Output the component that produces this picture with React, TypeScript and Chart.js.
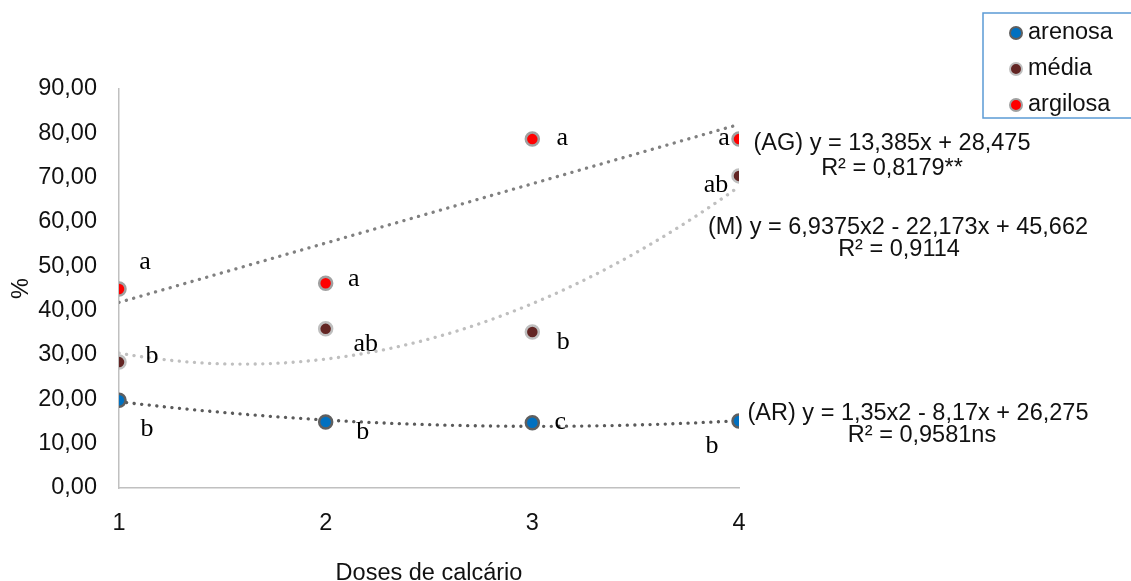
import React, { useEffect, useRef } from 'react';
import { Chart, registerables } from 'chart.js';

Chart.register(...registerables);

// ---- data ----
const doses = [1, 2, 3, 4];
const xTicks = [1, 2, 3, 4];
const yTicks = [0, 10, 20, 30, 40, 50, 60, 70, 80, 90];
const seriesNames = ['arenosa', 'média', 'argilosa'];
const arenosa = [19.8, 14.9, 14.7, 15.1];
const media = [28.4, 35.9, 35.2, 70.4];
const argilosa = [44.9, 46.2, 78.7, 78.7];
const arenosaLetters = ['b', 'b', 'c', 'b'];
const mediaLetters = ['b', 'ab', 'b', 'ab'];
const argilosaLetters = ['a', 'a', 'a', 'a'];
// trendline coefficients (c0 + c1 x + c2 x^2), as printed on the chart
const arCoef = [26.275, -8.17, 1.35];
const mCoef = [45.662, -22.173, 6.9375];
const agCoef = [28.475, 13.385];
const arEq = ['(AR) y = 1,35x2 - 8,17x + 26,275', 'R² = 0,9581ns'];
const mEq = ['(M) y = 6,9375x2 - 22,173x + 45,662', 'R² = 0,9114'];
const agEq = ['(AG) y = 13,385x + 28,475', 'R² = 0,8179**'];
const xTitle = 'Doses de calcário';
const yTitle = '%';

// ---- styling / placement ----
const colors = {
  arenosa: '#0070c0',
  media: '#632523',
  argilosa: '#ff0000',
};
const borders = {
  arenosa: '#5f5f5f',
  media: '#bfbfbf',
  argilosa: '#a0a0a0',
};
// pixel offsets of letters from their points
const letterOffsets = {
  arenosa: [[28, 30], [37, 11], [28, 0], [-27, 26]],
  media: [[33, -5], [40, 16], [31, 11], [-23, 10]],
  argilosa: [[26, -26], [28, -3], [30, 0], [-15, 0]],
};

const FONT = '"Liberation Sans", Arial, sans-serif';
const SERIF = '"Liberation Serif", "Times New Roman", serif';
const FS = 23.5;
const TEXT = '#111';

function poly(c: number[], x: number) {
  let y = 0;
  for (let i = 0; i < c.length; i++) y += c[i] * Math.pow(x, i);
  return y;
}
function trend(c: number[]) {
  const pts: { x: number; y: number }[] = [];
  const x0 = doses[0];
  const x1 = doses[doses.length - 1];
  const n = 60;
  for (let i = 0; i <= n; i++) {
    const x = x0 + ((x1 - x0) * i) / n;
    pts.push({ x, y: poly(c, x) });
  }
  return pts;
}
const pts = (arr: number[]) => arr.map((v, i) => ({ x: doses[i], y: v }));

const annotPlugin = {
  id: 'annot',
  afterDatasetsDraw(chart: any) {
    const { ctx, scales } = chart;
    const xs = scales.x;
    const ys = scales.y;
    ctx.save();
    // letters
    ctx.fillStyle = '#000';
    ctx.font = `26px ${SERIF}`;
    ctx.textAlign = 'center';
    ctx.textBaseline = 'alphabetic';
    const groups: [number[], string[], number[][]][] = [
      [arenosa, arenosaLetters, letterOffsets.arenosa],
      [media, mediaLetters, letterOffsets.media],
      [argilosa, argilosaLetters, letterOffsets.argilosa],
    ];
    groups.forEach(([vals, letters, offs]) => {
      vals.forEach((v, i) => {
        const px = xs.getPixelForValue(doses[i]) + offs[i][0];
        const py = ys.getPixelForValue(v) + offs[i][1];
        ctx.fillText(letters[i], px, py + 6);
      });
    });
    // equations
    ctx.font = `${FS}px ${FONT}`;
    ctx.textBaseline = 'middle';
    ctx.fillStyle = TEXT;
    const last = doses.length - 1;
    const x4 = xs.getPixelForValue(doses[last]);
    const ag = ys.getPixelForValue(argilosa[last]);
    const me = ys.getPixelForValue(media[last]);
    const ar = ys.getPixelForValue(arenosa[last]);
    ctx.fillText(agEq[0], x4 + 153, ag + 4);
    ctx.fillText(agEq[1], x4 + 153, ag + 29);
    ctx.fillText(mEq[0], x4 + 159, me + 52);
    ctx.fillText(mEq[1], x4 + 160, me + 74);
    ctx.fillText(arEq[0], x4 + 179, ar - 8);
    ctx.fillText(arEq[1], x4 + 183, ar + 14);

    // legend
    const lx = 983, ly = 13, lw = 150, lh = 105;
    ctx.strokeStyle = '#5b9bd5';
    ctx.lineWidth = 1.5;
    ctx.strokeRect(lx, ly, lw, lh);
    const keys = ['arenosa', 'media', 'argilosa'] as const;
    ctx.textAlign = 'left';
    keys.forEach((k, i) => {
      const cy = 33 + i * 36;
      ctx.beginPath();
      ctx.arc(1016, cy, 6, 0, Math.PI * 2);
      ctx.fillStyle = colors[k];
      ctx.fill();
      ctx.lineWidth = 2;
      ctx.strokeStyle = borders[k];
      ctx.stroke();
      ctx.fillStyle = TEXT;
      ctx.fillText(seriesNames[i], 1028, cy);
    });
    ctx.restore();
  },
};

export default function App() {
  const ref = useRef<HTMLCanvasElement | null>(null);
  useEffect(() => {
    if (!ref.current) return;
    const pointDs = (label: string, data: number[], key: 'arenosa' | 'media' | 'argilosa') => ({
      type: 'scatter' as const,
      label,
      data: pts(data),
      backgroundColor: colors[key],
      borderColor: borders[key],
      borderWidth: 2.5,
      pointRadius: 6.5,
      order: 0,
    });
    const lineDs = (label: string, c: number[], color: string) => ({
      type: 'scatter' as const,
      label,
      data: trend(c),
      showLine: true,
      borderColor: color,
      borderWidth: 3.3,
      borderDash: [0.1, 7.5],
      borderCapStyle: 'round' as const,
      pointRadius: 0,
      fill: false,
      order: 1,
    });
    const chart = new Chart(ref.current, {
      type: 'scatter',
      data: {
        datasets: [
          lineDs('trend AG', agCoef, '#808080'),
          lineDs('trend M', mCoef, '#bfbfbf'),
          lineDs('trend AR', arCoef, '#5a5a5a'),
          pointDs(seriesNames[0], arenosa, 'arenosa'),
          pointDs(seriesNames[1], media, 'media'),
          pointDs(seriesNames[2], argilosa, 'argilosa'),
        ] as any,
      },
      options: {
        animation: false,
        responsive: false,
        layout: { padding: { top: 89, right: 392, bottom: 0, left: 0 } },
        plugins: { legend: { display: false }, tooltip: { enabled: false } },
        scales: {
          x: {
            type: 'linear',
            min: 1,
            max: 4,
            afterBuildTicks: (s: any) => {
              s.ticks = xTicks.map((v) => ({ value: v }));
            },
            afterFit: (s: any) => {
              s.height = 93;
            },
            grid: { display: false, drawTicks: false },
            border: { color: '#c0c0c0', width: 1.5 },
            ticks: {
              padding: 21,
              color: TEXT,
              font: { family: FONT, size: FS },
              callback: (v: any) => String(v),
            },
            title: {
              display: true,
              text: xTitle,
              color: TEXT,
              font: { family: FONT, size: FS, lineHeight: 0.6 },
              padding: { top: 0, bottom: 0 },
            },
          },
          y: {
            type: 'linear',
            min: 0,
            max: 90,
            afterBuildTicks: (s: any) => {
              s.ticks = yTicks.map((v) => ({ value: v }));
            },
            afterFit: (s: any) => {
              s.width = 119;
            },
            grid: { display: false, drawTicks: false },
            border: { color: '#c0c0c0', width: 1.5 },
            ticks: {
              padding: 22,
              color: TEXT,
              font: { family: FONT, size: FS },
              callback: (v: any) => Number(v).toFixed(2).replace('.', ','),
            },
            title: {
              display: true,
              text: yTitle,
              color: TEXT,
              font: { family: FONT, size: FS },
              padding: { top: 7, bottom: 0 },
            },
          },
        },
      },
      plugins: [annotPlugin],
    } as any);
    return () => chart.destroy();
  }, []);
  return (
    <div style={{ position: 'absolute', left: 0, top: 0, width: 1131, height: 581, background: '#fff' }}>
      <canvas ref={ref} width={1131} height={581} style={{ width: 1131, height: 581 }} />
    </div>
  );
}
